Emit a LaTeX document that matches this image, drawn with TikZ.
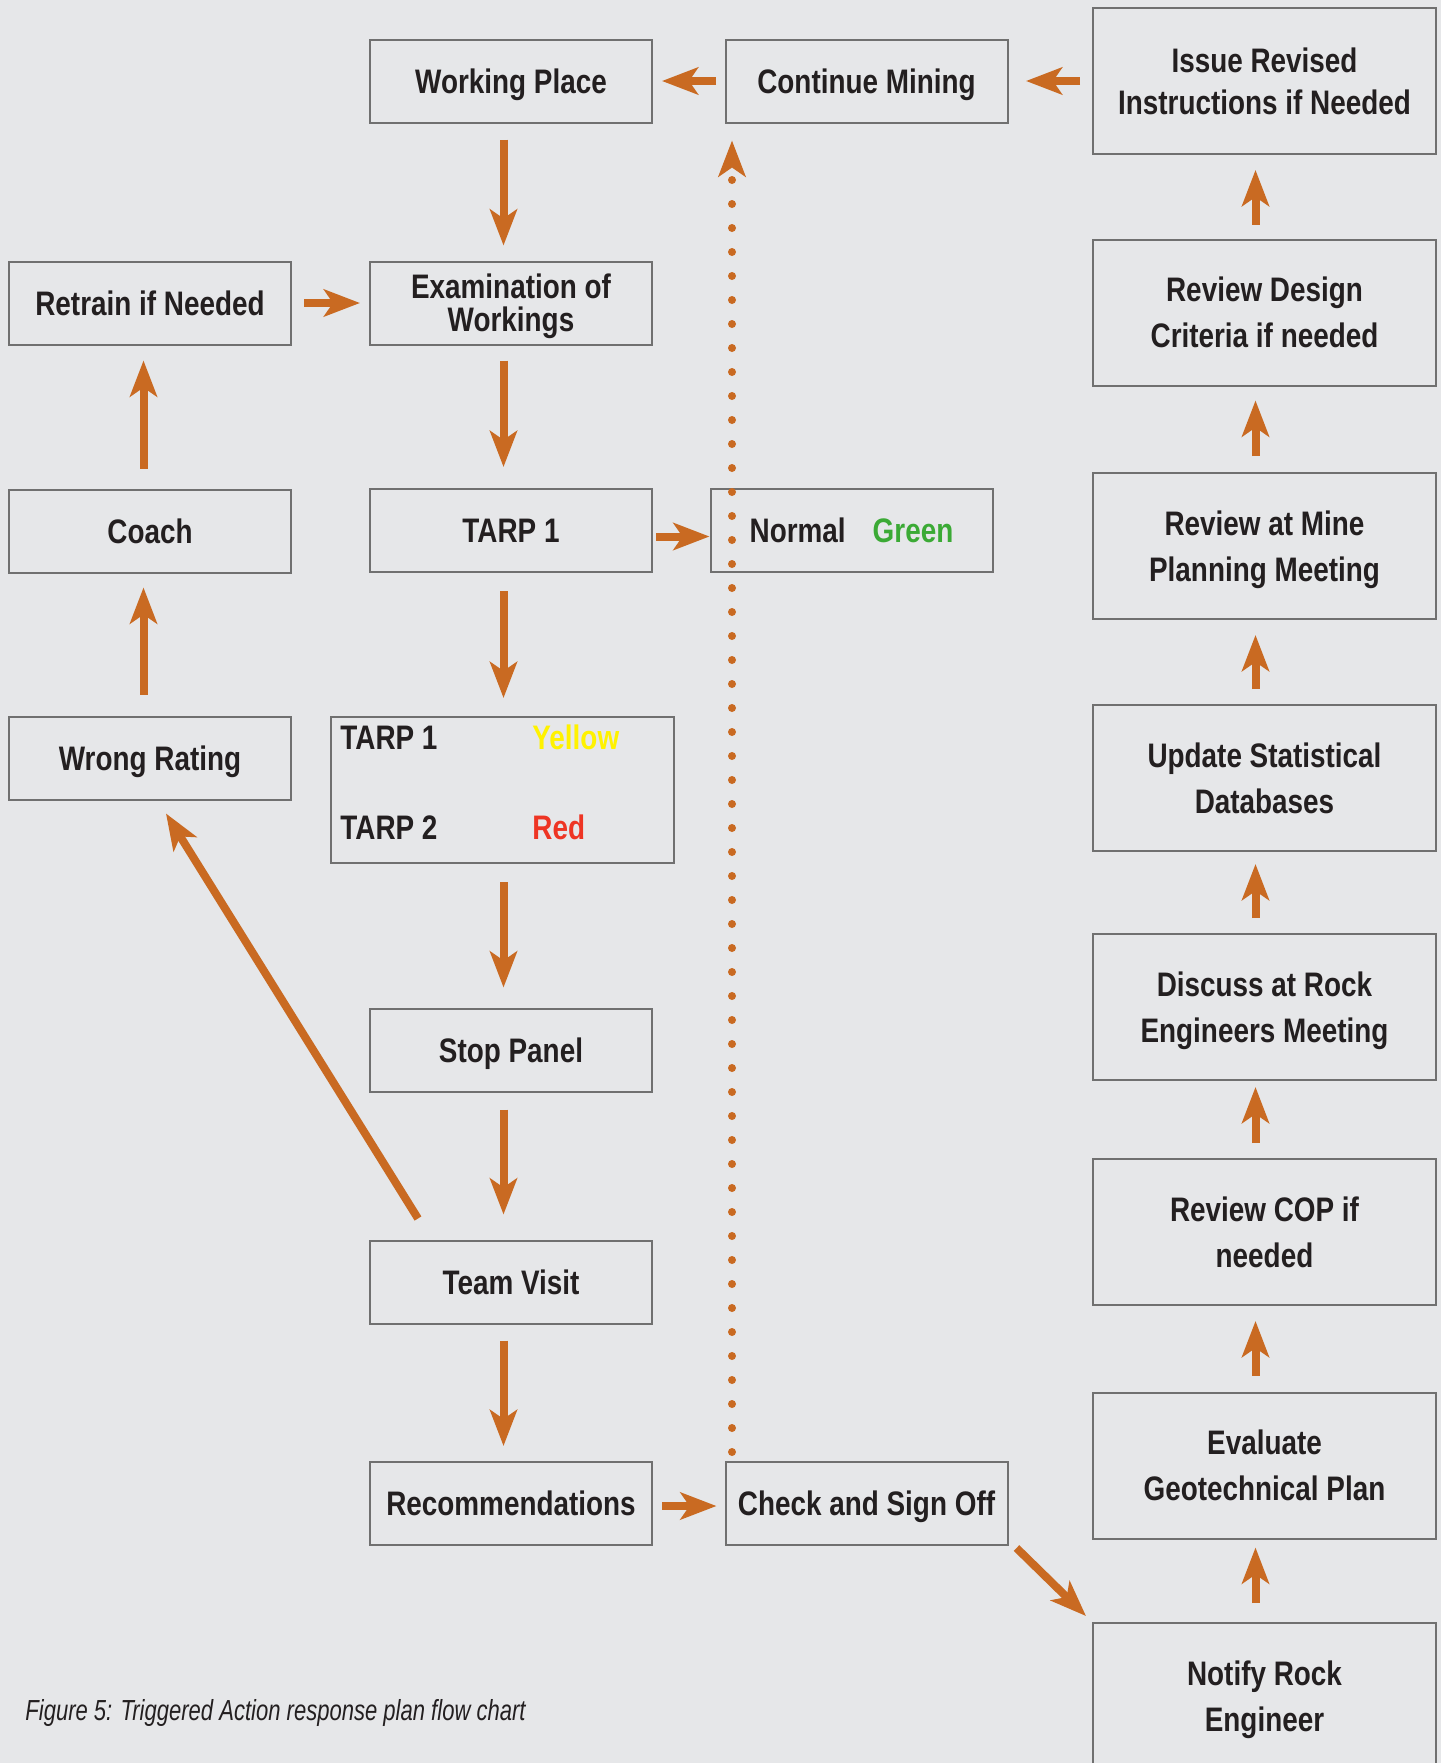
\documentclass[tikz,border=0pt]{standalone}
\usepackage{fontspec}
\setmainfont{Liberation Sans}
\newfontfamily\bxfont[FakeStretch=0.82]{Liberation Sans}
\newfontfamily\capfont[FakeStretch=0.76]{Liberation Sans}
\usetikzlibrary{arrows.meta}
\definecolor{bg}{RGB}{230,231,233}
\definecolor{arrc}{RGB}{201,106,34}
\definecolor{bord}{RGB}{112,112,112}
\definecolor{txt}{RGB}{35,31,32}
\definecolor{yel}{RGB}{255,242,0}
\definecolor{redc}{RGB}{238,53,36}
\definecolor{grn}{RGB}{59,170,53}
\begin{document}
\begin{tikzpicture}[x=0.5pt,y=-0.5pt,
 box/.style={draw=bord,line width=1pt,fill=bg,text=txt,inner sep=0pt,align=center,text depth=0pt,font=\bxfont\bfseries\fontsize{17}{23}\selectfont},
 sbox/.style={box,minimum width=141pt,minimum height=41.5pt},
 bbox/.style={box,minimum width=171.5pt,minimum height=73pt},
 flow/.style={draw=arrc,line width=4pt,-{Stealth[length=18pt,width=13.5pt,inset=4.5pt]}},
 dots/.style={draw=arrc,line width=4pt,line cap=round,dash pattern=on 0pt off 12pt},
 lbl/.style={text=txt,inner sep=0pt,anchor=base west,font=\bxfont\bfseries\fontsize{17}{23}\selectfont}]
\useasboundingbox (0,0) rectangle (1441,1763);
\fill[bg] (0,0) rectangle (1441,1763);

% nodes
\node[sbox] (wp) at (511,81) {Working Place};
\node[sbox] (cm) at (866.5,81) {Continue Mining};
\node[bbox,font=\bxfont\bfseries\fontsize{17}{21}\selectfont] (issue) at (1264.5,81) {Issue Revised\\Instructions if Needed};
\node[sbox] (retrain) at (150,303) {Retrain if Needed};
\node[sbox,font=\bxfont\bfseries\fontsize{17}{16.5}\selectfont] (exam) at (511,303) {Examination of\\Workings};
\node[bbox] (design) at (1264.5,312.5) {Review Design\\Criteria if needed};
\node[sbox] (coach) at (150,531) {Coach};
\node[sbox] (tarp1) at (511,530.5) {TARP 1};
\node[sbox] (normal) at (851.5,530.5) {Normal\hspace{13.5pt}\textcolor{grn}{Green}};
\node[bbox] (mine) at (1264.5,546) {Review at Mine\\Planning Meeting};
\node[sbox] (wrong) at (150,758) {Wrong Rating};
\node[bbox] (tarpbox) at (502.5,790) {};
\node[bbox] (update) at (1264.5,778) {Update Statistical\\Databases};
\node[sbox] (stop) at (511,1050) {Stop Panel};
\node[bbox] (discuss) at (1264.5,1007) {Discuss at Rock\\Engineers Meeting};
\node[sbox] (team) at (511,1282) {Team Visit};
\node[bbox] (cop) at (1264.5,1232) {Review COP if\\needed};
\node[sbox] (rec) at (511,1503.5) {Recommendations};
\node[sbox] (check) at (866.5,1503.5) {Check and Sign Off};
\node[bbox] (evalp) at (1264.5,1465.5) {Evaluate\\Geotechnical Plan};
\node[bbox] (notify) at (1264.5,1696) {Notify Rock\\Engineer};

\node[lbl] (ta) at (340,749) {TARP 1};
\node[lbl,text=yel] (tb) at (532,749) {Yellow};
\node[lbl] (tc) at (340,839) {TARP 2};
\node[lbl,text=redc] (td) at (532,839) {Red};

\node[anchor=base west,inner sep=0pt,text=txt,font=\capfont\itshape\fontsize{14.5}{17}\selectfont] (cap) at (25,1720) {Figure 5: Triggered Action response plan flow chart};

% connectors
\draw[flow] ([shift={(-8.5,0)}]cm.west) -- ([shift={(9,0)}]wp.east);
\draw[flow] ([shift={(-12,0)}]issue.west) -- ([shift={(17.5,0)}]cm.east);
\draw[flow] ([shift={(-7.5,16)}]wp.south) -- ([shift={(-7.5,-15)}]exam.north);
\draw[flow] ([shift={(12,0)}]retrain.east) -- ([shift={(-9,0)}]exam.west);
\draw[flow] ([shift={(-7.5,15)}]exam.south) -- ([shift={(-7.5,-21)}]tarp1.north);
\draw[flow] ([shift={(-6.5,-20)}]coach.north) -- ([shift={(-6.5,15)}]retrain.south);
\draw[flow] ([shift={(3,6)}]tarp1.east) -- ([shift={(0,6)}]normal.west);
\draw[flow] ([shift={(-7.5,18)}]tarp1.south) -- ([shift={(1,-18)}]tarpbox.north);
\draw[flow] ([shift={(-6.5,-21)}]wrong.north) -- ([shift={(-6.5,14)}]coach.south);
\draw[flow] ([shift={(1,18)}]tarpbox.south) -- ([shift={(-7.5,-20)}]stop.north);
\draw[flow] ([shift={(-7.5,17)}]stop.south) -- ([shift={(-7.5,-25)}]team.north);
\draw[flow] ([shift={(49,-21)}]team.north west) -- ([shift={(16,13)}]wrong.south);
\draw[flow] ([shift={(-7.5,16)}]team.south) -- ([shift={(-7.5,-15)}]rec.north);
\draw[flow] ([shift={(9,2.5)}]rec.east) -- ([shift={(-8,2.5)}]check.west);
\draw[flow] ([shift={(8,2)}]check.south east) -- ([shift={(-6,-6)}]notify.north west);
\draw[dots,-{Stealth[length=18pt,width=13.5pt,inset=4.5pt]}] ([shift={(7.5,-9)}]check.north west) -- ([shift={(7.5,17)}]cm.south west);

\draw[flow] ([shift={(-9,-19)}]notify.north) -- ([shift={(-9,8)}]evalp.south);
\draw[flow] ([shift={(-9,-16)}]evalp.north) -- ([shift={(-9,15)}]cop.south);
\draw[flow] ([shift={(-9,-15)}]cop.north) -- ([shift={(-9,6)}]discuss.south);
\draw[flow] ([shift={(-9,-15)}]discuss.north) -- ([shift={(-9,12)}]update.south);
\draw[flow] ([shift={(-9,-15)}]update.north) -- ([shift={(-9,15)}]mine.south);
\draw[flow] ([shift={(-9,-16)}]mine.north) -- ([shift={(-9,14)}]design.south);
\draw[flow] ([shift={(-9,-14)}]design.north) -- ([shift={(-9,15)}]issue.south);
\end{tikzpicture}
\end{document}
